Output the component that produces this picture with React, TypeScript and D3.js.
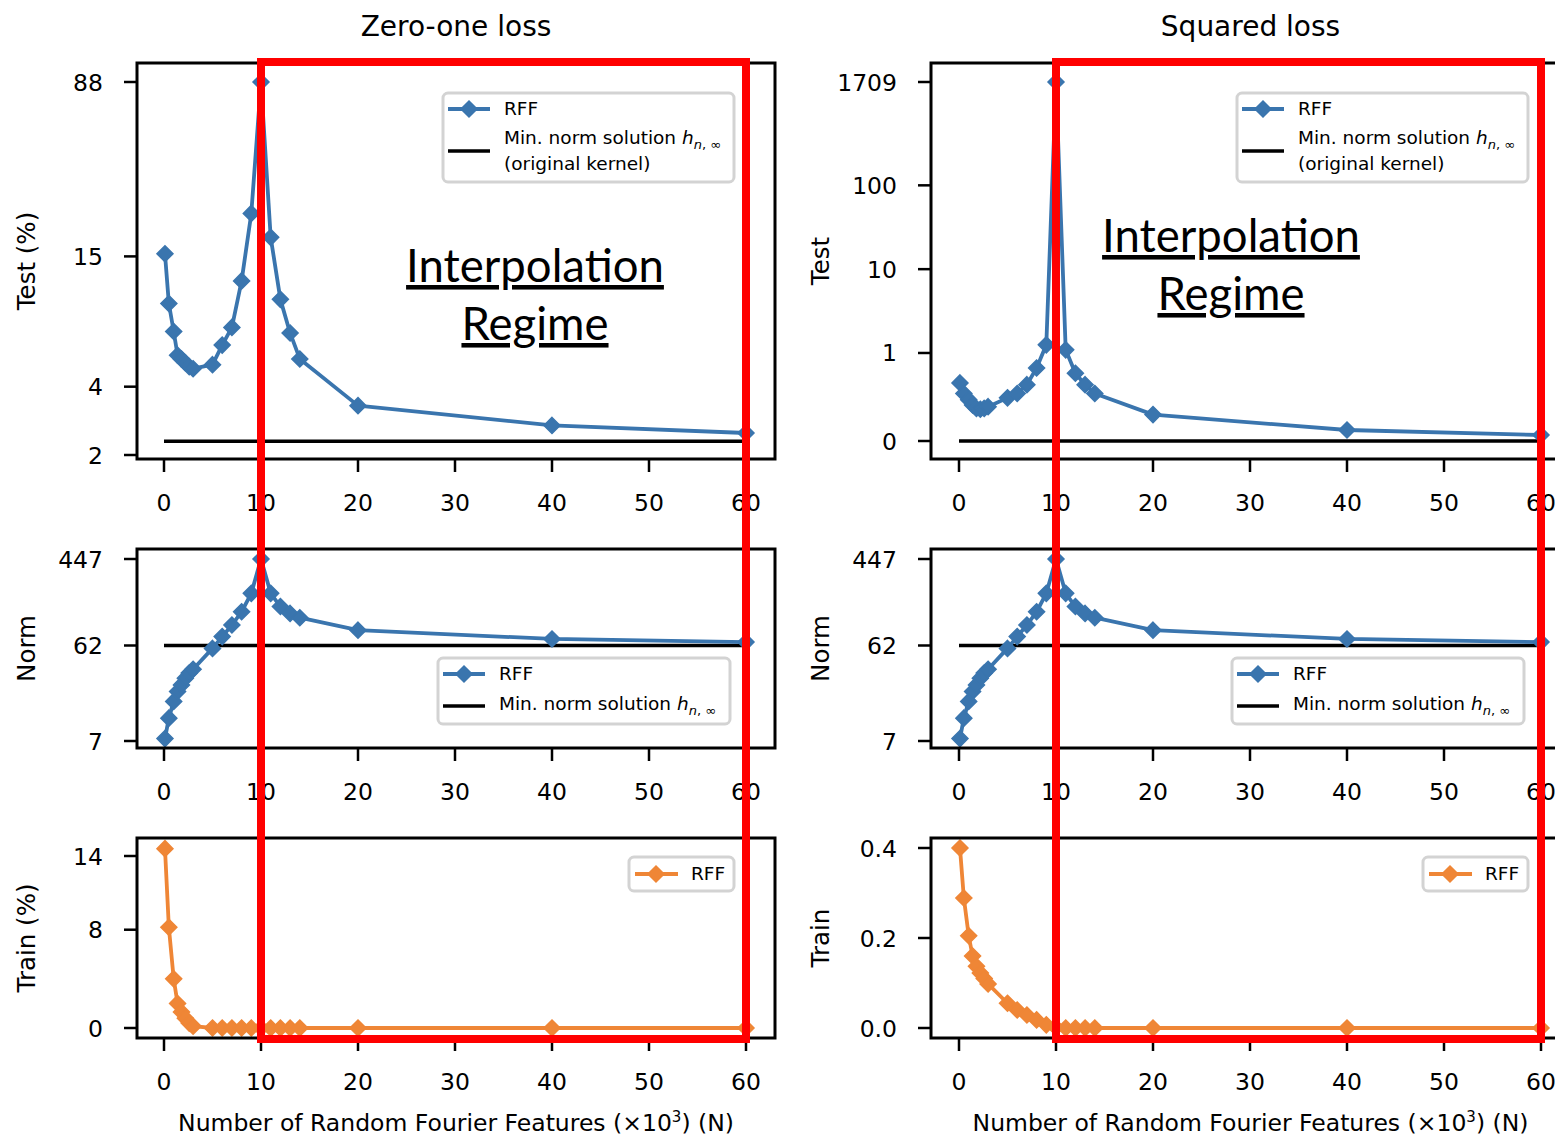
import React from "react";
import * as d3 from "d3";

// ---------------- data ----------------
const N = [0.1, 0.5, 1, 1.4, 1.8, 2.2, 2.6, 3, 5, 6, 7, 8, 9, 10, 11, 12, 13, 14, 20, 40, 60];
const xTicks = [0, 10, 20, 30, 40, 50, 60];

const zeroOneTest = [15.4, 9.3, 7.0, 5.5, 5.3, 5.1, 4.9, 4.8, 5.0, 6.1, 7.3, 11.7, 23.2, 88, 18.2, 9.7, 6.9, 5.3, 3.3, 2.7, 2.5];
const zeroOneKernelTest = 2.3;
const zeroOneTestTicks = [2, 4, 15, 88];

const normRFF = [7.4, 11.8, 17.3, 21.7, 25.2, 29.4, 33, 36, 58, 76, 99, 134, 204, 447, 204, 151, 129, 117, 88, 72, 67];
const kernelNorm = 62;
const normTicks = [7, 62, 447];

const zeroOneTrain = [14.6, 8.2, 4.0, 2.0, 1.3, 0.8, 0.4, 0.15, 0, 0, 0, 0, 0, 0, 0, 0, 0, 0, 0, 0, 0];
const zeroOneTrainTicks = [0, 8, 14];

const squaredTest = [0.66, 0.54, 0.47, 0.41, 0.37, 0.36, 0.37, 0.39, 0.49, 0.54, 0.64, 0.83, 1.25, 1709, 1.09, 0.77, 0.64, 0.54, 0.3, 0.125, 0.068];
const squaredKernelTest = 0.0;
const squaredTestTicks = [0, 1, 10, 100, 1709];

const squaredTrain = [0.4, 0.289, 0.205, 0.16, 0.137, 0.122, 0.11, 0.098, 0.055, 0.04, 0.029, 0.018, 0.007, 0.001, 0, 0, 0, 0, 0, 0, 0];
const squaredTrainTicks = [0, 0.2, 0.4];

const titles = ["Zero-one loss", "Squared loss"];
const xLabelText = "Number of Random Fourier Features (×10";

// ---------------- style ----------------
const BLUE = "#3a75ae";
const ORANGE = "#ef8636";
const RED = "#ff0000";
const FONT = "DejaVu Sans, sans-serif";
const TICK_FS = 23.5;

// symlog (linthresh = 1) transform used by the squared loss test panel
const symT = (v: number) => (Math.abs(v) <= 1 ? v * 1.05 : Math.sign(v) * (1.05 + Math.log10(Math.abs(v))));

type Col = { left: number; right: number; x0: number; x1: number };
const cols: Col[] = [
  { left: 137, right: 775, x0: 164, x1: 746 },
  { left: 931, right: 1570, x0: 959, x1: 1541 },
];
const rows = [
  { top: 63, bottom: 459 },
  { top: 549, bottom: 748 },
  { top: 838, bottom: 1038 },
];

function diamond(x: number, y: number, r: number, color: string, key: any) {
  const path = `M${x},${y - r}L${x + r},${y}L${x},${y + r}L${x - r},${y}Z`;
  return <path key={key} d={path} fill={color} stroke={color} strokeWidth={1.5} />;
}

function Panel(props: {
  col: Col;
  row: { top: number; bottom: number };
  yScale: (v: number) => number;
  values: number[];
  color: string;
  hline?: number;
  yTicks: number[];
  yFormat: (v: number) => string;
  yLabel: string;
}) {
  const { col, row, yScale, values, color, hline, yTicks, yFormat, yLabel } = props;
  const x = d3.scaleLinear().domain([0, 60]).range([col.x0, col.x1]);
  const line = d3
    .line<number>()
    .x((_, i) => x(N[i]))
    .y((d) => yScale(d));
  const tickLen = 13;
  return (
    <g>
      {hline !== undefined && (
        <line x1={x(0)} x2={x(60)} y1={yScale(hline)} y2={yScale(hline)} stroke="#000" strokeWidth={3.5} />
      )}
      <path d={line(values) || ""} fill="none" stroke={color} strokeWidth={3.8} strokeLinejoin="round" />
      {values.map((v, i) => diamond(x(N[i]), yScale(v), 8, color, i))}
      <rect x={col.left} y={row.top} width={col.right - col.left} height={row.bottom - row.top} fill="none" stroke="#000" strokeWidth={3} />
      {xTicks.map((t) => (
        <g key={"x" + t}>
          <line x1={x(t)} x2={x(t)} y1={row.bottom} y2={row.bottom + tickLen} stroke="#000" strokeWidth={2.5} />
          <text x={x(t)} y={row.bottom + 45} textAnchor="middle" dominantBaseline="middle" fontSize={TICK_FS} fontFamily={FONT}>
            {t}
          </text>
        </g>
      ))}
      {yTicks.map((t) => (
        <g key={"y" + t}>
          <line x1={col.left - tickLen} x2={col.left} y1={yScale(t)} y2={yScale(t)} stroke="#000" strokeWidth={2.5} />
          <text x={col.left - 34} y={yScale(t) + 2} textAnchor="end" dominantBaseline="middle" fontSize={TICK_FS} fontFamily={FONT}>
            {yFormat(t)}
          </text>
        </g>
      ))}
      <text
        transform={`translate(${col.left - 109},${(row.top + row.bottom) / 2}) rotate(-90)`}
        textAnchor="middle"
        dominantBaseline="middle"
        fontSize={24.5}
        fontFamily={FONT}
      >
        {yLabel}
      </text>
    </g>
  );
}

function HSub() {
  return (
    <>
      <tspan fontStyle="italic">h</tspan>
      <tspan fontSize={13} dy={5}>
        <tspan fontStyle="italic">n</tspan>, ∞
      </tspan>
    </>
  );
}

function Legend(props: { x: number; y: number; w: number; h: number; kind: "test" | "norm" | "train" }) {
  const { x, y, w, h, kind } = props;
  const fs = 18.5;
  return (
    <g>
      <rect x={x} y={y} width={w} height={h} rx={5} fill="#fff" fillOpacity={0.85} stroke="#d3d3d3" strokeWidth={3} />
      {kind === "train" ? (
        <g>
          <line x1={x + 6} x2={x + 49} y1={y + 17} y2={y + 17} stroke={ORANGE} strokeWidth={3.8} />
          {diamond(x + 27, y + 17, 8, ORANGE, "d")}
          <text x={x + 62} y={y + 18} dominantBaseline="middle" fontSize={fs} fontFamily={FONT}>
            RFF
          </text>
        </g>
      ) : (
        <g>
          <line x1={x + 5} x2={x + 47} y1={y + 16} y2={y + 16} stroke={BLUE} strokeWidth={3.8} />
          {diamond(x + 26, y + 16, 8, BLUE, "d")}
          <text x={x + 61} y={y + 17} dominantBaseline="middle" fontSize={fs} fontFamily={FONT}>
            RFF
          </text>
          {kind === "test" ? (
            <>
              <line x1={x + 5} x2={x + 47} y1={y + 58} y2={y + 58} stroke="#000" strokeWidth={3.5} />
              <text x={x + 61} y={y + 51} fontSize={fs} fontFamily={FONT}>
                Min. norm solution <HSub />
              </text>
              <text x={x + 61} y={y + 77} fontSize={fs} fontFamily={FONT}>
                (original kernel)
              </text>
            </>
          ) : (
            <>
              <line x1={x + 5} x2={x + 47} y1={y + 48} y2={y + 48} stroke="#000" strokeWidth={3.5} />
              <text x={x + 61} y={y + 52} fontSize={fs} fontFamily={FONT}>
                Min. norm solution <HSub />
              </text>
            </>
          )}
        </g>
      )}
    </g>
  );
}

export default function App() {
  const W = 1555;
  const H = 1137;

  const yTestL = d3.scaleLog().domain([2, 88]).range([455, 82]);
  const yNorm = d3.scaleLog().domain([7, 447]).range([741, 559]);
  const yTrainL = d3.scaleLinear().domain([0, 14]).range([1028, 856]);
  const symLin = d3.scaleLinear().domain([0, symT(1709)]).range([441, 82]);
  const yTestR = (v: number) => symLin(symT(v));
  const yTrainR = d3.scaleLinear().domain([0, 0.4]).range([1028, 848]);

  const regime = (c: Col, yTop: number, key: string) => {
    const cx = c === cols[0] ? 535 : 1231;
    return (
      <g key={key} fontFamily="Lato, 'Open Sans', sans-serif" fontSize={45.5} textAnchor="middle">
        <text x={cx} y={yTop} textDecoration="underline">
          Interpolation
        </text>
        <text x={cx} y={yTop + 58} textDecoration="underline">
          Regime
        </text>
      </g>
    );
  };

  return (
    <svg width={W} height={H} style={{ position: "absolute", left: 0, top: 0, background: "#fff" }}>
      <rect x={0} y={0} width={W} height={H} fill="#fff" />
      {cols.map((c, ci) => (
        <text key={"t" + ci} x={(c.left + c.right) / 2} y={28} textAnchor="middle" dominantBaseline="middle" fontSize={28} fontFamily={FONT}>
          {titles[ci]}
        </text>
      ))}
      {/* left column */}
      <Panel col={cols[0]} row={rows[0]} yScale={yTestL} values={zeroOneTest} color={BLUE} hline={zeroOneKernelTest} yTicks={zeroOneTestTicks} yFormat={(v) => String(v)} yLabel="Test (%)" />
      <Panel col={cols[0]} row={rows[1]} yScale={yNorm} values={normRFF} color={BLUE} hline={kernelNorm} yTicks={normTicks} yFormat={(v) => String(v)} yLabel="Norm" />
      <Panel col={cols[0]} row={rows[2]} yScale={yTrainL} values={zeroOneTrain} color={ORANGE} yTicks={zeroOneTrainTicks} yFormat={(v) => String(v)} yLabel="Train (%)" />
      {/* right column */}
      <Panel col={cols[1]} row={rows[0]} yScale={yTestR} values={squaredTest} color={BLUE} hline={squaredKernelTest} yTicks={squaredTestTicks} yFormat={(v) => String(v)} yLabel="Test" />
      <Panel col={cols[1]} row={rows[1]} yScale={yNorm} values={normRFF} color={BLUE} hline={kernelNorm} yTicks={normTicks} yFormat={(v) => String(v)} yLabel="Norm" />
      <Panel col={cols[1]} row={rows[2]} yScale={yTrainR} values={squaredTrain} color={ORANGE} yTicks={squaredTrainTicks} yFormat={(v) => v.toFixed(1)} yLabel="Train" />

      {cols.map((c, ci) => (
        <g key={"lg" + ci}>
          <Legend x={c.left + 306} y={93} w={291} h={89} kind="test" />
          <Legend x={c.left + 301} y={658} w={292} h={66} kind="norm" />
          <Legend x={c.left + 492} y={857} w={105} h={34} kind="train" />
        </g>
      ))}

      {cols.map((c, ci) => (
        <text key={"xl" + ci} x={(c.left + c.right) / 2} y={1131} textAnchor="middle" fontSize={23.5} fontFamily={FONT}>
          {xLabelText}
          <tspan fontSize={15} dy={-9}>3</tspan>
          <tspan dy={9}>) (N)</tspan>
        </text>
      ))}

      {regime(cols[0], 282, "r0")}
      {regime(cols[1], 252, "r1")}

      {cols.map((c, ci) => {
        const x = d3.scaleLinear().domain([0, 60]).range([c.x0, c.x1]);
        return (
          <rect key={"red" + ci} x={x(10)} y={62} width={x(60) - x(10)} height={1039 - 62} fill="none" stroke={RED} strokeWidth={8} />
        );
      })}
    </svg>
  );
}
